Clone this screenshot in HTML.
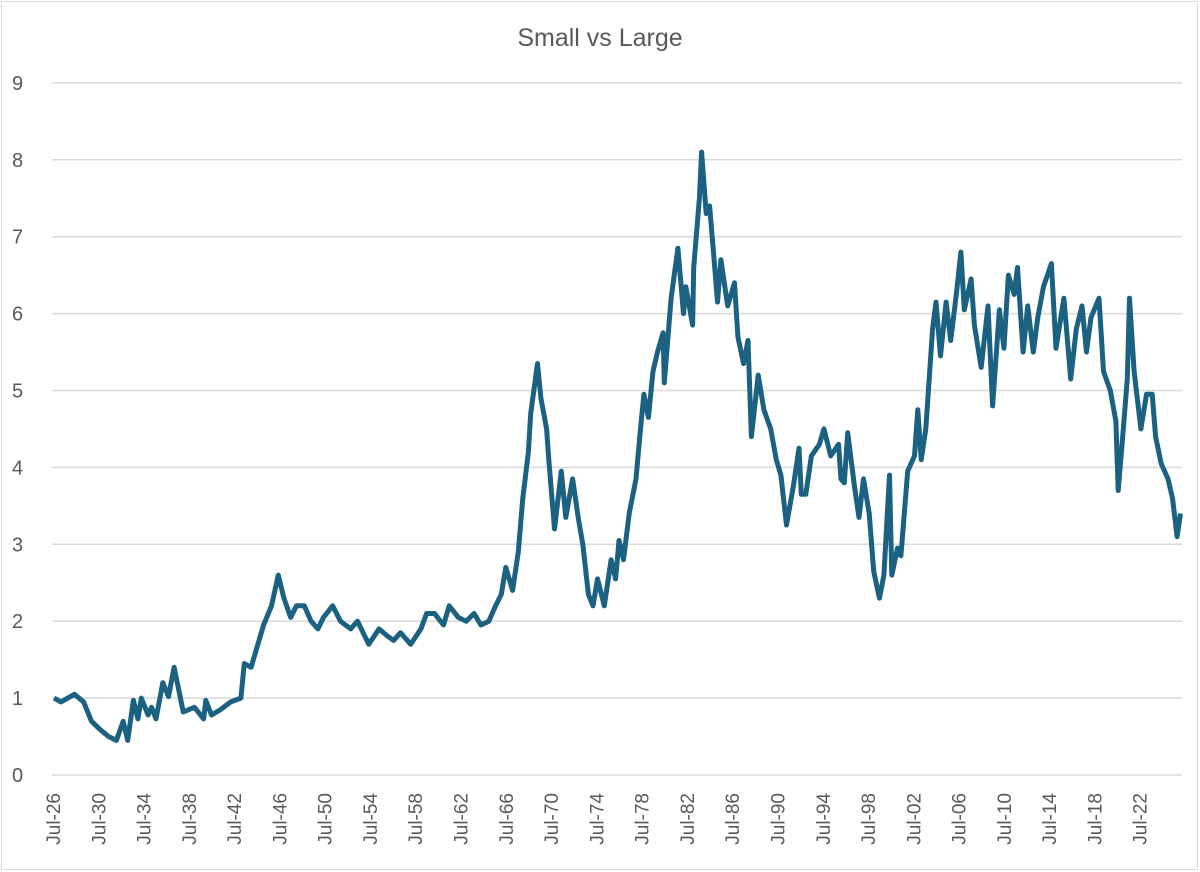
<!DOCTYPE html>
<html><head><meta charset="utf-8"><style>
html,body{margin:0;padding:0;background:#fff;}
svg{display:block;font-family:"Liberation Sans",sans-serif;}
</style></head><body>
<svg id="chart" width="1200" height="872" viewBox="0 0 1200 872">
<rect x="1.5" y="1.5" width="1196" height="868" fill="#fff" stroke="#d9d9d9"/>
<text x="600" y="46" text-anchor="middle" font-size="25" fill="#595959">Small vs Large</text>
<g id="grid"></g><g id="ylab"></g><g id="xlab"></g><g id="series"></g>
</svg>
<script>
const years=[1926.6,1927.2,1928.4,1929.2,1929.9,1930.6,1931.4,1932.1,1932.7,1933.1,1933.6,1934.0,1934.3,1934.9,1935.2,1935.6,1936.2,1936.7,1937.2,1937.8,1938.0,1939.0,1939.8,1940.0,1940.5,1941.3,1942.2,1943.1,1943.4,1944.0,1944.6,1945.1,1945.8,1946.4,1946.9,1947.5,1948.0,1948.7,1949.3,1949.9,1950.4,1951.2,1951.9,1952.8,1953.4,1954.4,1955.3,1956.1,1956.6,1957.2,1958.1,1959.0,1959.5,1960.2,1961.0,1961.5,1962.3,1963.0,1963.7,1964.3,1965.0,1965.6,1966.1,
1966.5,1967.1,1967.6,1968.0,1968.5,1968.7,1969.3,1969.6,1970.1,1970.3,1970.8,1971.4,1971.8,1972.4,1972.9,1973.3,1973.8,1974.2,1974.6,1975.2,1975.8,1976.2,1976.5,1976.9,1977.4,1978.0,1978.4,1978.7,1979.1,1979.5,1979.9,1980.4,1980.5,1981.1,1981.7,1982.2,1982.4,1983.0,1983.1,1983.6,1983.8,1984.2,1984.5,1984.9,1985.2,1985.5,1986.1,1986.7,1987.0,1987.5,1987.9,1988.2,1988.8,1989.3,1989.9,1990.4,1990.8,
1991.3,1991.9,1992.4,1992.6,1993.0,1993.5,1994.2,1994.6,1995.2,1995.9,1996.1,1996.4,1996.7,1997.3,1997.7,1998.1,1998.6,1999.0,1999.5,1999.9,2000.4,2000.6,2001.1,2001.4,2002.0,2002.6,2002.9,2003.2,2003.6,2003.9,2004.2,2004.5,2004.9,2005.4,2005.8,2006.3,2006.7,2007.0,2007.6,2007.9,2008.5,2009.1,2009.5,2010.1,2010.5,2010.9,2011.4,2011.7,2012.2,2012.6,2013.1,2013.5,2014.0,2014.7,2015.1,2015.8,2016.4,2016.9,2017.4,2017.8,2018.2,2018.9,2019.3,2019.9,2020.4,2020.6,2021.0,2021.4,2021.6,2022.0,2022.6,2023.1,2023.6,2023.9,2024.4,2025.0,2025.4,2025.8,2026.1];
const values=[1.0,0.95,1.05,0.95,0.7,0.6,0.5,0.45,0.7,0.45,0.97,0.73,1.0,0.78,0.88,0.73,1.2,1.02,1.4,0.97,0.82,0.88,0.73,0.97,0.78,0.85,0.95,1.0,1.45,1.4,1.7,1.95,2.2,2.6,2.3,2.05,2.2,2.2,2.0,1.9,2.05,2.2,2.0,1.9,2.0,1.7,1.9,1.8,1.75,1.85,1.7,1.9,2.1,2.1,1.95,2.2,2.05,2.0,2.1,1.95,2.0,2.2,2.35,
2.7,2.4,2.9,3.6,4.2,4.7,5.35,4.9,4.5,4.1,3.2,3.95,3.35,3.85,3.35,3.0,2.35,2.2,2.55,2.2,2.8,2.55,3.05,2.8,3.4,3.85,4.5,4.95,4.65,5.25,5.5,5.75,5.1,6.2,6.85,6.0,6.35,5.85,6.6,7.5,8.1,7.3,7.4,6.7,6.15,6.7,6.1,6.4,5.7,5.35,5.65,4.4,5.2,4.75,4.5,4.1,3.9,
3.25,3.75,4.25,3.65,3.65,4.15,4.3,4.5,4.15,4.3,3.85,3.8,4.45,3.75,3.35,3.85,3.4,2.65,2.3,2.6,3.9,2.6,2.95,2.85,3.95,4.15,4.75,4.1,4.5,5.15,5.8,6.15,5.45,6.15,5.65,6.25,6.8,6.05,6.45,5.85,5.3,6.1,4.8,6.05,5.55,6.5,6.25,6.6,5.5,6.1,5.5,5.95,6.35,6.65,5.55,6.2,5.15,5.8,6.1,5.5,5.95,6.2,5.25,5.0,4.6,3.7,4.4,5.15,6.2,5.25,4.5,4.95,4.95,4.4,4.05,3.85,3.6,3.1,3.4];
const yTicks=[0,1,2,3,4,5,6,7,8,9];
const xTickYears=[1926,1930,1934,1938,1942,1946,1950,1954,1958,1962,1966,1970,1974,1978,1982,1986,1990,1994,1998,2002,2006,2010,2014,2018,2022];
const NS="http://www.w3.org/2000/svg";
const X0=52,X1=1182,Y0=775,PX=76.9;
function xs(y){return 53+(y-1926.5)*11.32;}
function ys(v){return Y0-v*PX;}
const grid=document.getElementById('grid'),ylab=document.getElementById('ylab'),xlab=document.getElementById('xlab'),ser=document.getElementById('series');
yTicks.forEach(t=>{
 const l=document.createElementNS(NS,'line');
 l.setAttribute('x1',X0);l.setAttribute('x2',X1);l.setAttribute('y1',ys(t));l.setAttribute('y2',ys(t));
 l.setAttribute('stroke','#d9d9d9');l.setAttribute('stroke-width','1.5');
 
 
 grid.appendChild(l);
 const tx=document.createElementNS(NS,'text');
 tx.setAttribute('x',12);tx.setAttribute('y',ys(t)+7);tx.setAttribute('font-size','20');tx.setAttribute('fill','#595959');
 tx.textContent=t;
 
 
 ylab.appendChild(tx);
});
xTickYears.forEach(yr=>{
 const x=xs(yr+0.5);
 const tx=document.createElementNS(NS,'text');
 tx.setAttribute('transform','translate('+(x+7)+',793) rotate(-90)');
 tx.setAttribute('text-anchor','end');tx.setAttribute('font-size','19');tx.setAttribute('fill','#595959');
 tx.textContent='Jul-'+String(yr%100).padStart(2,'0');
 
 
 xlab.appendChild(tx);
});
const p=document.createElementNS(NS,'path');
p.setAttribute('d',years.map((y,i)=>(i?'L':'M')+xs(y).toFixed(1)+','+ys(values[i]).toFixed(1)).join(''));
p.setAttribute('fill','none');p.setAttribute('stroke','#1a6182');p.setAttribute('stroke-width','5');p.setAttribute('stroke-linejoin','round');


ser.appendChild(p);
</script>
</body></html>
